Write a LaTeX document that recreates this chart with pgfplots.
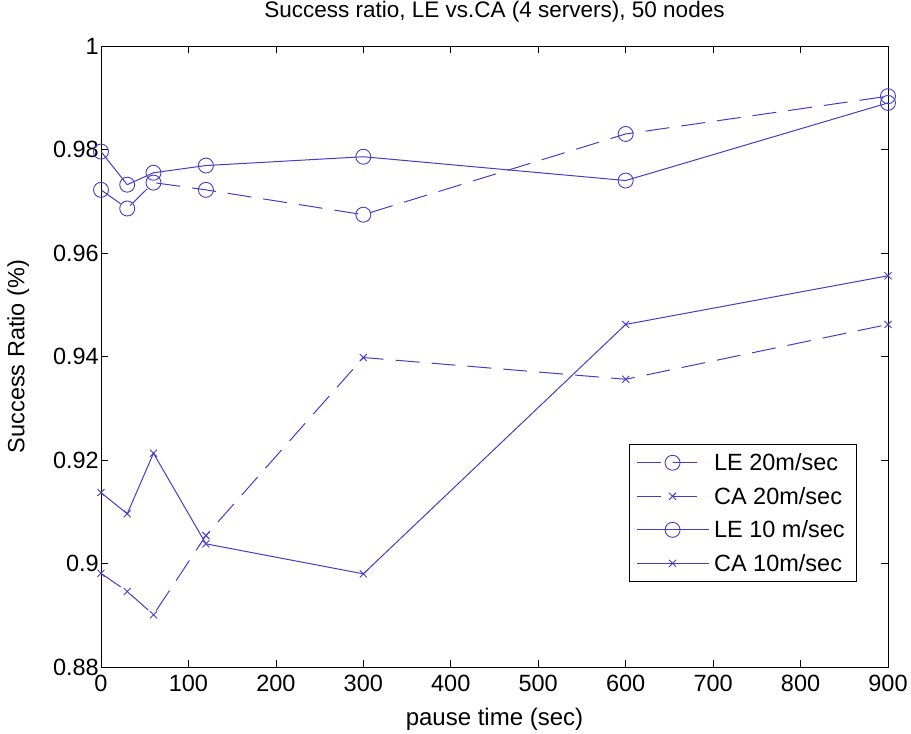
\documentclass[border=0pt]{standalone}
\usepackage{pgfplots}
\pgfplotsset{compat=1.18}
\usepackage{fontspec}
\setmainfont{Liberation Sans}
\definecolor{mblue}{RGB}{70,60,200}
\begin{document}
\begin{tikzpicture}
\path[use as bounding box] (-101pt,-67pt) rectangle (810pt,667pt);
\begin{axis}[
  at={(0pt,0pt)}, anchor=south west,
  scale only axis, width=787pt, height=621pt,
  xmin=0, xmax=900, ymin=0.88, ymax=1,
  xtick={0,100,...,900},
  xticklabels={0,100,200,300,400,500,600,700,800,900},
  ytick={0.88,0.9,0.92,0.94,0.96,0.98,1},
  yticklabels={0.88,0.9,0.92,0.94,0.96,0.98,1},
  tick align=inside, major tick length=7pt,
  tick style={black, line width=0.6pt},
  axis line style={black, line width=0.8pt},
  tick label style={font=\fontsize{23.5}{26}\selectfont},
  yticklabel style={inner sep=2pt},
  xticklabel style={inner sep=2pt, yshift=-6pt},
  title={Success ratio, LE vs.CA (4 servers), 50 nodes},
  title style={font=\fontsize{22.5}{26}\selectfont, at={(axis description cs:0.5,1.045)}, anchor=center},
  xlabel={pause time (sec)},
  xlabel style={font=\fontsize{24}{26}\selectfont, at={(axis description cs:0.5,-0.084)}, anchor=center},
  ylabel={Success Ratio (\%)},
  ylabel style={font=\fontsize{23.5}{26}\selectfont, at={(axis description cs:-0.105,0.5)}, anchor=center, rotate=0},
  legend style={at={(axis description cs:0.9606,0.137)}, anchor=south east,
    draw=black, line width=0.6pt, font=\fontsize{23.5}{26}\selectfont,
    row sep=11pt, inner sep=7pt, nodes={inner xsep=5pt}},
  legend cell align=left,
  legend image code/.code={\draw[mark repeat=2,mark phase=2,#1] plot coordinates {(0pt,0pt)(36pt,0pt)(72pt,0pt)};},
  every axis plot/.append style={mblue, line width=1.0pt},
]
\addplot[mblue, dash pattern=on 24pt off 12pt, mark=o, mark size=7.5pt, mark options={solid, line width=0.9pt}]
  coordinates {(0,0.9722) (30,0.9686) (60,0.9736) (120,0.9722) (300,0.9674) (600,0.9830) (900,0.9903)};
\addlegendentry{LE 20m/sec}
\addplot[mblue, dash pattern=on 24pt off 12pt, mark=x, mark size=5pt, mark options={solid, line width=0.9pt}]
  coordinates {(0,0.8981) (30,0.8946) (60,0.8901) (120,0.9054) (300,0.9398) (600,0.9356) (900,0.9462)};
\addlegendentry{CA 20m/sec}
\addplot[mblue, mark=o, mark size=7.5pt, mark options={solid, line width=0.9pt}]
  coordinates {(0,0.9796) (30,0.9732) (60,0.9755) (120,0.9769) (300,0.9786) (600,0.9740) (900,0.9890)};
\addlegendentry{LE 10 m/sec}
\addplot[mblue, mark=x, mark size=5pt, mark options={solid, line width=0.9pt}]
  coordinates {(0,0.9137) (30,0.9096) (60,0.9213) (120,0.9038) (300,0.8980) (600,0.9462) (900,0.9556)};
\addlegendentry{CA 10m/sec}
\end{axis}
\end{tikzpicture}
\end{document}
